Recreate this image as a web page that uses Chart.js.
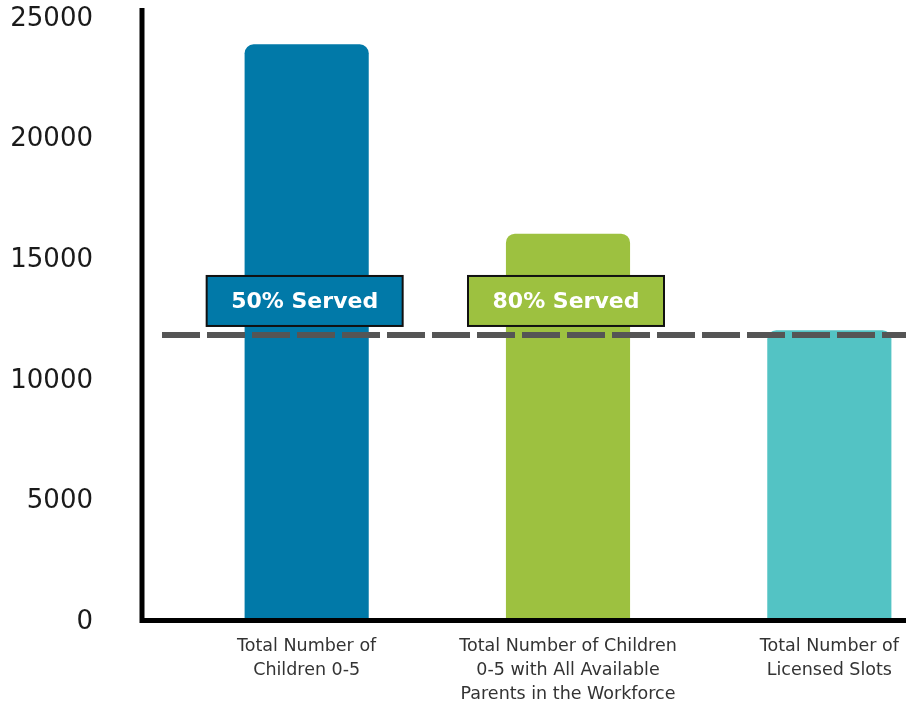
<!DOCTYPE html>
<html>
<head>
<meta charset="utf-8">
<script src="https://cdn.jsdelivr.net/npm/chart.js@4.4.1/dist/chart.umd.min.js"></script>
<style>
  html, body { margin: 0; padding: 0; background: #fff; }
  #wrap { width: 906px; height: 704px; overflow: hidden; }
  #chart { display: block; }
</style>
</head>
<body>
<div id="wrap"><canvas id="chart" width="960" height="704"></canvas></div>
<script>
"use strict"

const categories = [
  ['Total Number of', 'Children 0-5'],
  ['Total Number of Children', '0-5 with All Available', 'Parents in the Workforce'],
  ['Total Number of', 'Licensed Slots']
];
const values = [23950, 16100, 12100];
const barColors = ['#0179a8', '#9dc140', '#53c3c4'];
const servedLabels = ['50% Served', '80% Served', null];
const capacityLine = 11900;

// axes, dashed capacity line and the "% Served" boxes
const overlay = {
  id: 'overlay',
  afterDatasetsDraw(chart) {
    const ctx = chart.ctx;
    const area = chart.chartArea;
    const y = chart.scales.y;
    const axisX = area.left - 34;

    ctx.save();
    ctx.strokeStyle = '#000';
    ctx.lineWidth = 5;
    ctx.beginPath();
    ctx.moveTo(axisX, 8);
    ctx.lineTo(axisX, area.bottom);
    ctx.moveTo(axisX - 2.5, area.bottom - 1.5);
    ctx.lineTo(chart.width, area.bottom - 1.5);
    ctx.stroke();

    const lineY = y.getPixelForValue(capacityLine);
    ctx.strokeStyle = '#555555';
    ctx.lineWidth = 6;
    ctx.setLineDash([38, 7]);
    ctx.beginPath();
    ctx.moveTo(area.left - 14, lineY);
    ctx.lineTo(chart.width, lineY);
    ctx.stroke();
    ctx.setLineDash([]);

    const bars = chart.getDatasetMeta(0).data;
    servedLabels.forEach((txt, i) => {
      if (!txt) return;
      const cx = bars[i].x - 2;
      const w = 196, h = 50;
      const top = lineY - 9 - h;
      ctx.fillStyle = barColors[i];
      ctx.fillRect(cx - w / 2, top, w, h);
      ctx.strokeStyle = '#111';
      ctx.lineWidth = 2;
      ctx.strokeRect(cx - w / 2, top, w, h);
      ctx.fillStyle = '#fff';
      ctx.font = 'bold 22px "DejaVu Sans"';
      ctx.textAlign = 'center';
      ctx.textBaseline = 'middle';
      ctx.fillText(txt, cx, top + h / 2 + 1);
    });
    ctx.restore();
  }
};

new Chart(document.getElementById('chart'), {
  type: 'bar',
  data: {
    labels: categories,
    datasets: [{
      data: values,
      backgroundColor: barColors,
      borderRadius: { topLeft: 9, topRight: 9 },
      borderSkipped: 'bottom',
      categoryPercentage: 1,
      barPercentage: 0.475
    }]
  },
  options: {
    responsive: false,
    animation: false,
    layout: { padding: { top: 19, left: 0, right: 0, bottom: 0 } },
    plugins: { legend: { display: false }, tooltip: { enabled: false } },
    scales: {
      x: {
        grid: { display: false, drawTicks: false },
        border: { display: false },
        afterFit: s => { s.height = 82; },
        ticks: {
          padding: 12,
          color: '#333',
          font: { family: 'DejaVu Sans', size: 17.5, lineHeight: 1.38 },
          maxRotation: 0,
          autoSkip: false
        }
      },
      y: {
        min: 0,
        max: 25000,
        // wide axis with labels pushed left; keep the big tick padding from
        // eating vertical space
        afterFit: s => { s.width = 176; s.paddingTop = 0; s.paddingBottom = 0; },
        grid: { display: false, drawTicks: false },
        border: { display: false },
        ticks: {
          stepSize: 5000,
          padding: 83,
          color: '#1a1a1a',
          font: { family: 'DejaVu Sans', size: 26 },
          callback: v => String(v)
        }
      }
    }
  },
  plugins: [overlay]
});
</script>
</body>
</html>
